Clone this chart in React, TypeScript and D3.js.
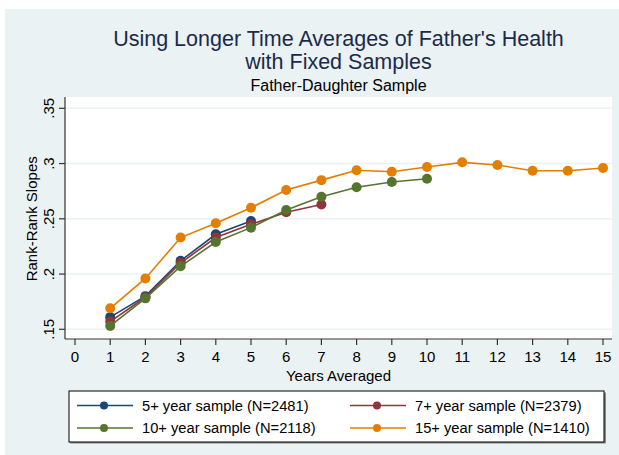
import React from "react";
import * as d3 from "d3";

const years = [1, 2, 3, 4, 5, 6, 7, 8, 9, 10, 11, 12, 13, 14, 15];
const s5 = [0.161, 0.18, 0.212, 0.236, 0.248];
const s7 = [0.157, 0.179, 0.21, 0.233, 0.245, 0.256, 0.263];
const s10 = [0.153, 0.178, 0.207, 0.229, 0.242, 0.258, 0.27, 0.2785, 0.2833, 0.2863];
const s15 = [0.169, 0.196, 0.233, 0.246, 0.26, 0.276, 0.285, 0.294, 0.2926, 0.2969, 0.3011, 0.2987, 0.2935, 0.2935, 0.296];
const seriesNames = [
  "5+ year sample (N=2481)",
  "7+ year sample (N=2379)",
  "10+ year sample (N=2118)",
  "15+ year sample (N=1410)",
];
const seriesColors = ["#1a476f", "#90353b", "#55752f", "#e37e00"];
const xTicks = [0, 1, 2, 3, 4, 5, 6, 7, 8, 9, 10, 11, 12, 13, 14, 15];
const yTicks = [0.15, 0.2, 0.25, 0.3, 0.35];
const yTickLabels = [".15", ".2", ".25", ".3", ".35"];

const FONT = "'Liberation Sans', Arial, Helvetica, sans-serif";

export default function App() {
  const W = 619, H = 455;
  const plot = { l: 65, r: 612, t: 97, b: 339 };
  const x = d3.scaleLinear().domain([0, 15]).range([75, 603]);
  const y = d3.scaleLinear().domain([0.15, 0.35]).range([329.3, 108.3]);
  const all = [s5, s7, s10, s15];
  const line = d3
    .line<number>()
    .x((_, i) => x(years[i]))
    .y((d) => y(d));
  const cx = (plot.l + plot.r) / 2;

  const legendItems = seriesNames.map((n, i) => ({
    name: n,
    color: seriesColors[i],
    col: i % 2,
    row: Math.floor(i / 2),
  }));

  return (
    <svg
      width={W}
      height={H}
      style={{ position: "absolute", left: 0, top: 0, fontFamily: FONT }}
    >
      <rect x={0} y={0} width={W} height={H} fill="#ffffff" />
      <rect x={5} y={9} width={W - 5} height={H - 9} fill="#eaf2f3" />
      <rect
        x={plot.l}
        y={plot.t}
        width={plot.r - plot.l}
        height={plot.b - plot.t}
        fill="#ffffff"
      />
      {yTicks.map((t) => (
        <line
          key={"g" + t}
          x1={plot.l}
          x2={plot.r}
          y1={y(t)}
          y2={y(t)}
          stroke="#eaf2f3"
          strokeWidth={1.5}
        />
      ))}
      {/* axes */}
      <line x1={plot.l} x2={plot.l} y1={plot.t} y2={plot.b} stroke="#333" strokeWidth={1.2} />
      <line x1={plot.l} x2={plot.r} y1={plot.b} y2={plot.b} stroke="#333" strokeWidth={1.2} />
      {yTicks.map((t, i) => (
        <g key={"yt" + t}>
          <line x1={plot.l - 6} x2={plot.l} y1={y(t)} y2={y(t)} stroke="#333" strokeWidth={1.2} />
          <text
            transform={`translate(${54},${y(t)}) rotate(-90)`}
            textAnchor="middle"
            fontSize={15}
            fill="#000"
          >
            {yTickLabels[i]}
          </text>
        </g>
      ))}
      {xTicks.map((t) => (
        <g key={"xt" + t}>
          <line x1={x(t)} x2={x(t)} y1={plot.b} y2={plot.b + 6} stroke="#333" strokeWidth={1.2} />
          <text x={x(t)} y={362} textAnchor="middle" fontSize={15} fill="#000">
            {t}
          </text>
        </g>
      ))}
      <text
        transform={`translate(${37},${y(0.25)}) rotate(-90)`}
        textAnchor="middle"
        fontSize={15}
        fill="#000"
      >
        Rank-Rank Slopes
      </text>
      <text x={cx} y={381} textAnchor="middle" fontSize={15} fill="#000">
        Years Averaged
      </text>
      {/* series */}
      {all.map((s, i) => (
        <g key={"s" + i}>
          <path d={line(s) || ""} fill="none" stroke={seriesColors[i]} strokeWidth={1.6} />
          {s.map((v, j) => (
            <circle key={j} cx={x(years[j])} cy={y(v)} r={5} fill={seriesColors[i]} />
          ))}
        </g>
      ))}
      {/* titles */}
      <text x={cx} y={46} textAnchor="middle" fontSize={21.5} fill="#1c2a4a">
        Using Longer Time Averages of Father's Health
      </text>
      <text x={cx} y={69} textAnchor="middle" fontSize={21.5} fill="#1c2a4a">
        with Fixed Samples
      </text>
      <text x={cx} y={91} textAnchor="middle" fontSize={16} fill="#000">
        Father-Daughter Sample
      </text>
      {/* legend */}
      <rect x={70} y={392.5} width={536} height={51} fill="#8a8a8a" />
      <rect x={69} y={391} width={535} height={51} fill="#ffffff" stroke="#000" strokeWidth={1} />
      {legendItems.map((it, i) => {
        const x0 = it.col === 0 ? 77 : 350;
        const yy = it.row === 0 ? 405.5 : 428;
        return (
          <g key={"l" + i}>
            <line x1={x0} x2={x0 + 56} y1={yy} y2={yy} stroke={it.color} strokeWidth={1.4} />
            <circle cx={x0 + 27} cy={yy} r={4} fill={it.color} />
            <text x={x0 + 65} y={yy + 5} fontSize={14.7} fill="#000">
              {it.name}
            </text>
          </g>
        );
      })}
    </svg>
  );
}
